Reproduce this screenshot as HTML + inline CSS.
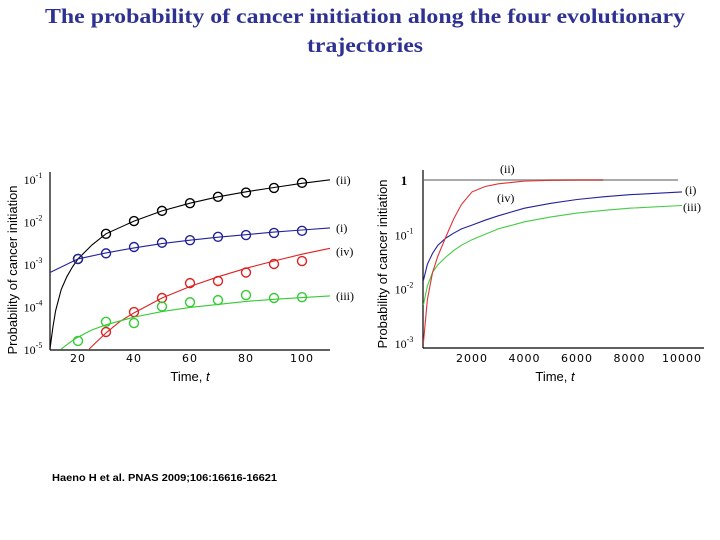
<!DOCTYPE html>
<html><head><meta charset="utf-8"><style>
html,body{margin:0;padding:0;background:#fff;width:720px;height:540px;overflow:hidden}
svg{display:block}
</style></head><body>
<svg id="svg" width="720" height="540" viewBox="0 0 720 540" xmlns="http://www.w3.org/2000/svg">
<text x="365" y="23" text-anchor="middle" font-family="Liberation Serif, serif" font-weight="bold" font-size="21" fill="#2e3191" textLength="640" lengthAdjust="spacingAndGlyphs">The probability of cancer initiation along the four evolutionary</text>
<text x="365" y="52" text-anchor="middle" font-family="Liberation Serif, serif" font-weight="bold" font-size="21" fill="#2e3191" textLength="116" lengthAdjust="spacingAndGlyphs">trajectories</text>
<text x="52" y="481" font-family="Liberation Sans, sans-serif" font-weight="bold" font-size="10" fill="#000" textLength="225" lengthAdjust="spacingAndGlyphs">Haeno H et al. PNAS 2009;106:16616-16621</text>
<g id="left"></g><g id="right"></g>
</svg>
<script>
// Left chart data (log10 probability)
const leftTimes = [20,30,40,50,60,70,80,90,100];
const leftBlackPts = [-2.88,-2.29,-1.99,-1.75,-1.57,-1.42,-1.32,-1.21,-1.09];
const leftBluePts = [-2.88,-2.75,-2.6,-2.5,-2.44,-2.36,-2.32,-2.27,-2.22];
const leftRedPts = [null,-4.6,-4.13,-3.8,-3.45,-3.4,-3.2,-3.0,-2.93];
const leftGreenPts = [-4.81,-4.36,-4.39,-4.0,-3.9,-3.85,-3.73,-3.8,-3.78];
const leftBlackLineT = [10,11,12,14,16,18,20,25,30,40,50,60,70,80,90,100,110];
const leftBlackLine = [-5,-4.5,-4.1,-3.6,-3.3,-3.07,-2.88,-2.55,-2.29,-1.99,-1.75,-1.57,-1.42,-1.3,-1.2,-1.1,-1.02];
const leftBlueLineT = [10,20,30,40,50,60,70,80,90,100,110];
const leftBlueLine = [-3.2,-2.88,-2.74,-2.62,-2.52,-2.44,-2.37,-2.31,-2.25,-2.2,-2.15];
const leftRedLineT = [24,30,35,40,50,60,70,80,90,100,110];
const leftRedLine = [-5,-4.62,-4.35,-4.15,-3.8,-3.53,-3.3,-3.1,-2.93,-2.77,-2.63];
const leftGreenLineT = [14,17,20,25,30,40,50,60,70,80,90,100,110];
const leftGreenLine = [-5,-4.85,-4.72,-4.55,-4.43,-4.25,-4.12,-4.02,-3.95,-3.88,-3.83,-3.79,-3.75];
const leftXTicks = [20,40,60,80,100];
const leftYTicks = [-1,-2,-3,-4,-5];
// Right chart data
const rightTimes = [150,300,500,700,1000,1300,1600,2000,2500,3000,4000,5000,6000,7000,8000,10000];
const rightRed = [-3.0,-2.2,-1.7,-1.4,-1.05,-0.72,-0.45,-0.22,-0.12,-0.07,-0.02,-0.005,0,0,null,null];
const rightBlue = [-1.85,-1.55,-1.35,-1.2,-1.07,-0.98,-0.9,-0.83,-0.74,-0.66,-0.52,-0.43,-0.36,-0.31,-0.27,-0.22];
const rightGreen = [-2.3,-1.95,-1.7,-1.56,-1.42,-1.3,-1.2,-1.1,-1.0,-0.9,-0.77,-0.68,-0.61,-0.56,-0.52,-0.47];
const rightGreyT = [150,9850];
const rightGrey = [0,0];
const rightXTicks = [2000,4000,6000,8000,10000];
const rightYTicks = [0,-1,-2,-3];

const NS='http://www.w3.org/2000/svg';
function mk(parent,tag,attrs,text){const e=document.createElementNS(NS,tag);for(const k in attrs)e.setAttribute(k,attrs[k]);if(text!==undefined)e.textContent=text;parent.appendChild(e);return e;}
function pathD(ts,vs,xs,ys){let d='';ts.forEach((t,i)=>{if(vs[i]===null)return;d+=(d?'L':'M')+xs(t).toFixed(1)+','+ys(vs[i]).toFixed(1);});return d;}

// LEFT
const L=document.getElementById('left');
const lx=t=>50+(t-10)*2.8, ly=v=>179+(-1-v)*42.5;
let e;
e=mk(L,'line',{x1:50,y1:172,x2:50,y2:350,stroke:'#000','stroke-width':1.2});

e=mk(L,'line',{x1:50,y1:350,x2:330,y2:350,stroke:'#000','stroke-width':1.2});

leftXTicks.forEach(t=>{
  e=mk(L,'text',{x:lx(t),y:362,'text-anchor':'middle','font-family':'DejaVu Sans, sans-serif','font-size':11,'letter-spacing':1},String(t));
  
});
leftYTicks.forEach(v=>{
  const g=mk(L,'text',{x:33,y:ly(v)+5,'text-anchor':'middle','font-family':'Liberation Serif, serif','font-size':12});
  
  g.textContent='10';mk(g,'tspan',{dy:-6,'font-size':8},String(v));
});
e=mk(L,'text',{x:190,y:381,'text-anchor':'middle','font-family':'Liberation Sans, sans-serif','font-size':13},'Time, ');

mk(e,'tspan',{'font-style':'italic'},'t');
e=mk(L,'text',{transform:'translate(17,270) rotate(-90)','text-anchor':'middle','font-family':'Liberation Sans, sans-serif','font-size':13},'Probability of cancer initiation');

const series=[['black','#000',leftBlackLineT,leftBlackLine,leftBlackPts],['blue','#22229a',leftBlueLineT,leftBlueLine,leftBluePts],['red','#d22',leftRedLineT,leftRedLine,leftRedPts],['green','#3c3',leftGreenLineT,leftGreenLine,leftGreenPts]];
series.forEach(s=>{
  e=mk(L,'path',{d:pathD(s[2],s[3],lx,ly),fill:'none',stroke:s[1],'stroke-width':1.1});
  
  leftTimes.forEach((t,i)=>{if(s[4][i]===null)return;
    e=mk(L,'circle',{cx:lx(t),cy:ly(s[4][i]),r:4.5,fill:'none',stroke:s[1],'stroke-width':1.4});
    
  });
});
[['(ii)',-1.02],['(i)',-2.15],['(iv)',-2.7],['(iii)',-3.75]].forEach(l=>{
  e=mk(L,'text',{x:336,y:ly(l[1])+4,'font-family':'Liberation Serif, serif','font-size':12},l[0]);
  
});

// RIGHT
const R=document.getElementById('right');
const rx=t=>419.5+t*0.02625, ry=v=>180+(-v)*54.3;
e=mk(R,'line',{x1:423,y1:170,x2:423,y2:348,stroke:'#000','stroke-width':1.2});

e=mk(R,'line',{x1:423,y1:348,x2:704,y2:348,stroke:'#000','stroke-width':1.2});

rightXTicks.forEach(t=>{
  e=mk(R,'text',{x:rx(t),y:362,'text-anchor':'middle','font-family':'DejaVu Sans, sans-serif','font-size':11,'letter-spacing':1},String(t));
  
});
rightYTicks.forEach(v=>{
  const g=mk(R,'text',{x:404,y:ry(v)+5,'text-anchor':'middle','font-family':'Liberation Serif, serif','font-size':12});
  
  if(v===0){g.textContent='1';g.setAttribute('font-weight','bold');g.setAttribute('font-size',13);}
  else{g.textContent='10';mk(g,'tspan',{dy:-6,'font-size':8},String(v));}
});
e=mk(R,'text',{x:555,y:381,'text-anchor':'middle','font-family':'Liberation Sans, sans-serif','font-size':13},'Time, ');

mk(e,'tspan',{'font-style':'italic'},'t');
e=mk(R,'text',{transform:'translate(387,264) rotate(-90)','text-anchor':'middle','font-family':'Liberation Sans, sans-serif','font-size':13},'Probability of cancer initiation');

e=mk(R,'path',{d:pathD(rightGreyT,rightGrey,rx,ry),fill:'none',stroke:'#aaa','stroke-width':2});

[['green','#4c4',rightGreen],['blue','#22229a',rightBlue],['red','#d33',rightRed]].forEach(s=>{
  e=mk(R,'path',{d:pathD(rightTimes,s[2],rx,ry),fill:'none',stroke:s[1],'stroke-width':1.1});
  
});
[['(ii)',500,173],['(iv)',497,202],['(i)',685,194],['(iii)',683,211]].forEach(l=>{
  e=mk(R,'text',{x:l[1],y:l[2],'font-family':'Liberation Serif, serif','font-size':12},l[0]);
  
});
</script>
</body></html>
